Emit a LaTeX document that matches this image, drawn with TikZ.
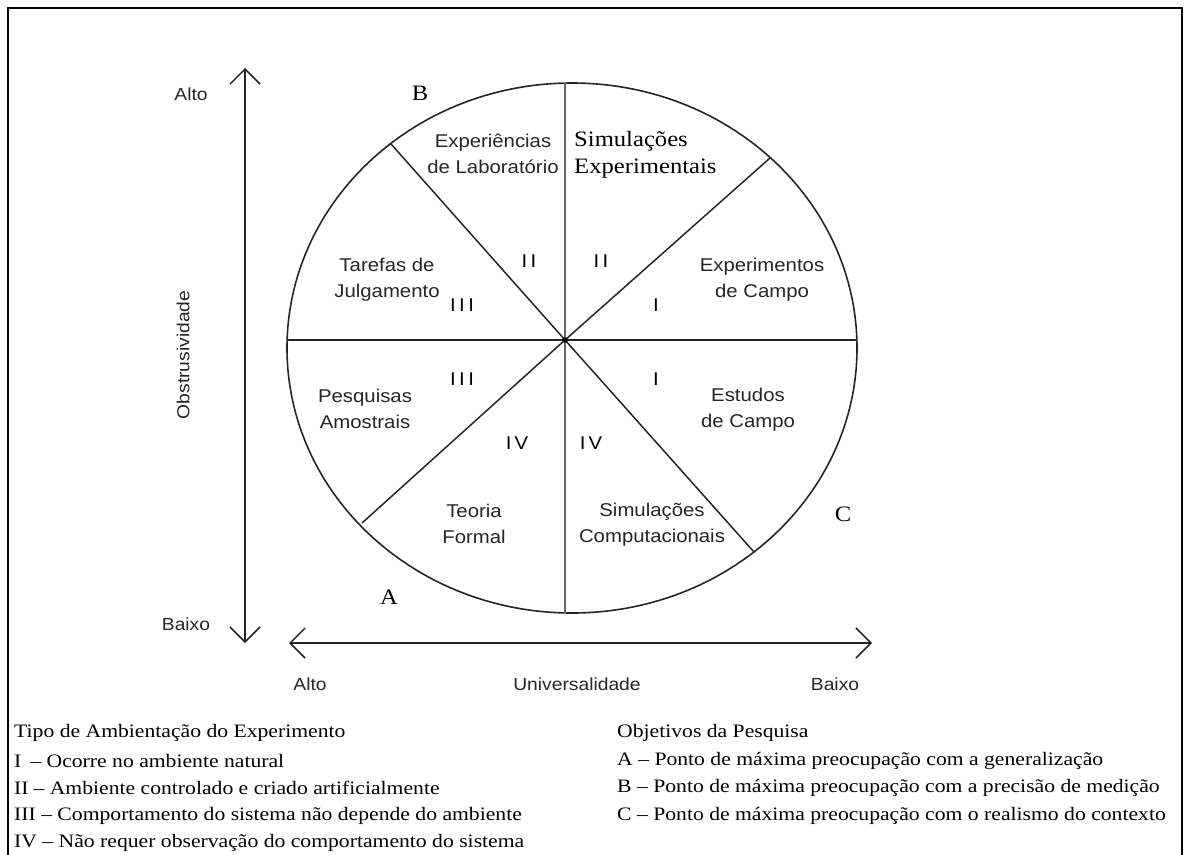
\documentclass[tikz,border=0pt]{standalone}
\usepackage{fontspec}
\setmainfont{Liberation Serif}[FakeStretch=1.12]
\newfontfamily\legfont{Liberation Serif}[FakeStretch=1.14]
\setsansfont{Liberation Sans}[FakeStretch=1.1]
\usetikzlibrary{arrows.meta}
\tikzset{
  lab/.style={font=\sffamily\fontsize{18.5}{26}\selectfont, align=center, inner sep=0pt, text=black!85},
  num/.style={font=\sffamily\fontsize{18.5}{22}\selectfont, inner sep=0pt, text=black},
  ser/.style={font=\rmfamily\fontsize{22}{27}\selectfont, inner sep=0pt},
  axl/.style={font=\sffamily\fontsize{17.5}{20}\selectfont, inner sep=0pt, text=black!85},
  leg/.style={font=\legfont\fontsize{19}{22}\selectfont, anchor=west, inner sep=0pt},
  spoke/.style={line width=1.5pt, black!85},
  axis/.style={line width=1.5pt, black!85, {Straight Barb[length=15pt,width=30pt]}-{Straight Barb[length=15pt,width=30pt]}},
}
\begin{document}
\begin{tikzpicture}[x=1pt,y=-1pt]
\useasboundingbox (0,0) rectangle (1188,854);
\clip (0,0) rectangle (1188,854);
\fill[white] (0,0) rectangle (1188,854);
\draw[line width=1.5pt] (8,8) rectangle (1182,900);

% wheel
\coordinate (O) at (565,340);
\coordinate (T) at (565,83);
\coordinate (Bo) at (565,613);
\coordinate (L) at (287,340);
\coordinate (R) at (857,340);
\coordinate (UL) at (391,144);
\coordinate (UR) at (770,158);
\coordinate (LL) at (362,523);
\coordinate (LR) at (754,552);
\draw[line width=1.6pt, black!85] (572,348) ellipse [x radius=285, y radius=265];
\draw[line width=1.6pt, black!60] (T) -- (Bo);
\draw[spoke] (L) -- (R);
\draw[spoke] (O) -- (UL);
\draw[spoke] (O) -- (UR);
\draw[spoke] (O) -- (LL);
\draw[spoke] (O) -- (LR);
\fill (O) circle (2.8);

% sector labels
\node[lab] (exl) at (493,154) {Experiências\\de Laboratório};
\node[ser, align=left, anchor=west] (sie) at (574,154.5) {Simulações\\Experimentais};
\node[lab] (taj) at (387,280) {Tarefas de\\Julgamento};
\node[lab] (exc) at (762,280) {Experimentos\\de Campo};
\node[lab] (pea) at (365,409) {Pesquisas\\Amostrais};
\node[lab] (esc) at (748,410) {Estudos\\de Campo};
\node[lab] (tef) at (474,524) {Teoria\\Formal};
\node[lab] (sic) at (652,524.5) {Simulações\\Computacionais};

% numerals
\node[num] (n1) at (529,261) {I\hspace{3.5pt}I};
\node[num] (n2) at (601,261) {I\hspace{3.5pt}I};
\node[num] (n3) at (462,305) {I\hspace{3.5pt}I\hspace{3.5pt}I};
\node[num] (n4) at (656,305) {I};
\node[num] (n5) at (462,379) {I\hspace{3.5pt}I\hspace{3.5pt}I};
\node[num] (n6) at (656,379) {I};
\node[num] (n7) at (517,443) {I\hspace{3pt}V};
\node[num] (n8) at (591,443) {I\hspace{3pt}V};

% points
\node[ser] (pA) at (389,597) {A};
\node[ser] (pB) at (420,93) {B};
\node[ser] (pC) at (843,514) {C};

% axes
\coordinate (vt) at (245,68);
\coordinate (vb) at (245,643);
\coordinate (hl) at (289,643);
\coordinate (hr) at (872,643);
\draw[axis] (vb) -- (vt);
\draw[axis] (hl) -- (hr);
\node[axl] (va) at (191,94) {Alto};
\node[axl] (vbx) at (186,624) {Baixo};
\node[axl, rotate=90] (ob) at (183,355) {Obstrusividade};
\node[axl] (ha) at (310,684) {Alto};
\node[axl] (hu) at (577,684) {Universalidade};
\node[axl] (hb) at (835,684) {Baixo};

% legend
\node[leg] (l0) at (14,733) {Tipo de Ambientação do Experimento};
\node[leg] (l1) at (14,760.5) {I\hspace{9pt}– Ocorre no ambiente natural};
\node[leg] (l2) at (14,788) {II\hspace{5pt}– Ambiente controlado e criado artificialmente};
\node[leg] (l3) at (14,815.5) {III – Comportamento do sistema não depende do ambiente};
\node[leg] (l4) at (14,843) {IV – Não requer observação do comportamento do sistema};
\node[leg] (r0) at (617,733) {Objetivos da Pesquisa};
\node[leg] (r1) at (617,760.5) {A – Ponto de máxima preocupação com a generalização};
\node[leg] (r2) at (617,788) {B – Ponto de máxima preocupação com a precisão de medição};
\node[leg] (r3) at (617,815.5) {C – Ponto de máxima preocupação com o realismo do contexto};
\end{tikzpicture}
\end{document}
